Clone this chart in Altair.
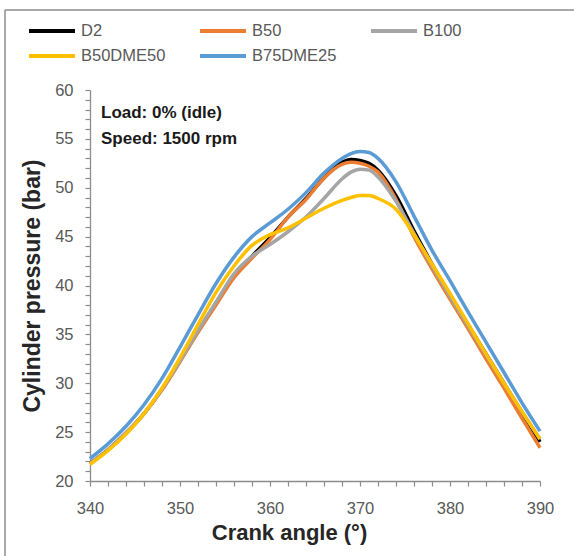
import altair as alt
import pandas as pd

# ---- data ----
angles = [340, 342, 344, 346, 348, 350, 352, 354, 356, 358, 360, 362, 364, 366,
          368, 369, 370, 371, 372, 374, 376, 378, 380, 382, 384, 386, 388, 390]

d2 = [21.8, 23.2, 24.9, 26.9, 29.4, 32.3, 35.3, 38.2, 41.0, 43.0, 44.9, 47.0, 48.9, 51.0,
      52.6, 52.9, 52.8, 52.5, 51.8, 49.2, 45.6, 42.2, 39.0, 36.0, 33.0, 30.0, 27.0, 24.0]
b50 = [21.8, 23.2, 24.9, 26.9, 29.3, 32.2, 35.2, 38.0, 40.8, 42.8, 44.7, 47.0, 48.8, 51.0,
       52.4, 52.6, 52.5, 52.2, 51.6, 48.8, 45.0, 41.7, 38.6, 35.6, 32.5, 29.5, 26.4, 23.4]
b100 = [21.8, 23.2, 24.9, 26.9, 29.4, 32.3, 35.4, 38.3, 41.2, 43.0, 44.2, 45.5, 47.0, 48.9,
        50.9, 51.6, 51.9, 51.8, 51.1, 48.6, 45.3, 42.0, 38.9, 35.9, 32.9, 30.0, 27.1, 24.3]
b50dme50 = [21.7, 23.1, 24.8, 26.9, 29.5, 32.6, 36.0, 39.3, 42.0, 44.1, 45.2, 45.9, 46.9, 47.9,
            48.7, 49.0, 49.2, 49.2, 48.9, 47.8, 45.2, 42.2, 39.2, 36.1, 33.0, 30.0, 27.1, 24.3]
b75dme25 = [22.3, 23.8, 25.6, 27.8, 30.5, 33.7, 37.0, 40.2, 42.9, 45.0, 46.4, 47.8, 49.5, 51.5,
            53.0, 53.5, 53.7, 53.6, 53.0, 50.6, 47.1, 43.6, 40.5, 37.3, 34.2, 31.1, 28.0, 25.1]

series_names = ["D2", "B50", "B100", "B50DME50", "B75DME25"]
series_colors = ["#000000", "#ED7D31", "#A5A5A5", "#FFC000", "#5B9BD5"]
notes = ["Load: 0% (idle)", "Speed: 1500 rpm"]

y_ticks = list(range(20, 61))
x_ticks = list(range(340, 391, 2))

rows = []
for name, vals in zip(series_names, [d2, b50, b100, b50dme50, b75dme25]):
    for a, v in zip(angles, vals):
        rows.append({"angle": a, "pressure": v, "fuel": name})
df = pd.DataFrame(rows)

FONT = "Liberation Sans"
AXIS_GRAY = "#8c8c8c"

color_enc = alt.Color(
    "fuel:N",
    scale=alt.Scale(domain=series_names, range=series_colors),
    legend=alt.Legend(
        title=None, orient="none", legendX=-63, legendY=-69, columns=3,
        direction="horizontal",
        symbolType="stroke", symbolSize=2116, symbolStrokeWidth=4,
        labelFont=FONT, labelFontSize=16.5, labelColor="#595959",
        labelOffset=4, columnPadding=32, rowPadding=5, gridAlign="all",
        clipHeight=20,
    ),
)

x_enc = alt.X(
    "angle:Q",
    scale=alt.Scale(domain=[340, 390], nice=False, zero=False),
    axis=alt.Axis(
        title="Crank angle (°)", values=x_ticks,
        labelExpr="datum.value % 10 == 0 ? datum.label : ''",
        labelFlush=False, labelOverlap=False,
        grid=False, tickSize=5, labelPadding=14, titlePadding=6,
        titleX=199, titleAlign="center", titleFontSize=22,
    ),
)
y_enc = alt.Y(
    "pressure:Q",
    scale=alt.Scale(domain=[20, 60], nice=False, zero=False),
    axis=alt.Axis(
        title="Cylinder pressure (bar)", values=y_ticks,
        labelExpr="datum.value % 5 == 0 ? datum.label : ''",
        labelFlush=False, labelOverlap=False,
        grid=False, tickSize=5, labelPadding=12, titlePadding=10,
        titleFontSize=23,
    ),
)

base = alt.Chart(df).mark_line(strokeWidth=3.5, interpolate="monotone").encode(
    x=x_enc, y=y_enc, color=color_enc
)
lines = [base.transform_filter(alt.datum.fuel == n) for n in series_names]

dummy = pd.DataFrame({"k": [0]})
note1 = alt.Chart(dummy).mark_text(
    align="left", baseline="middle", font=FONT, fontSize=17, fontWeight="bold", color="#1a1a1a"
).encode(x=alt.value(11), y=alt.value(23), text=alt.value(notes[0]))
note2 = alt.Chart(dummy).mark_text(
    align="left", baseline="middle", font=FONT, fontSize=17, fontWeight="bold", color="#1a1a1a"
).encode(x=alt.value(11), y=alt.value(49), text=alt.value(notes[1]))

border_left = alt.Chart(dummy).mark_rule(color="#8c8c8c", strokeWidth=1.5).encode(
    x=alt.value(-85), y=alt.value(-80), y2=alt.value(470)
)
border_top = alt.Chart(dummy).mark_rule(color="#8c8c8c", strokeWidth=1.5).encode(
    x=alt.value(-85), x2=alt.value(490), y=alt.value(-80)
)

chart = alt.layer(border_left, border_top, *lines, note1, note2).properties(
    width=450, height=391,
    background="white",
    autosize=alt.AutoSizeParams(type="none"),
    padding={"left": 90, "top": 90, "right": 34, "bottom": 75},
).configure_view(stroke=None).configure_axis(
    labelFont=FONT, labelFontSize=16.5, labelColor="#595959",
    titleFont=FONT, titleFontSize=21, titleFontWeight="bold", titleColor="#262626",
    domainColor=AXIS_GRAY, tickColor=AXIS_GRAY, domainWidth=1.3, tickWidth=1.2,
)

chart.save("out.html", embed_options={"renderer": "svg", "actions": False})
